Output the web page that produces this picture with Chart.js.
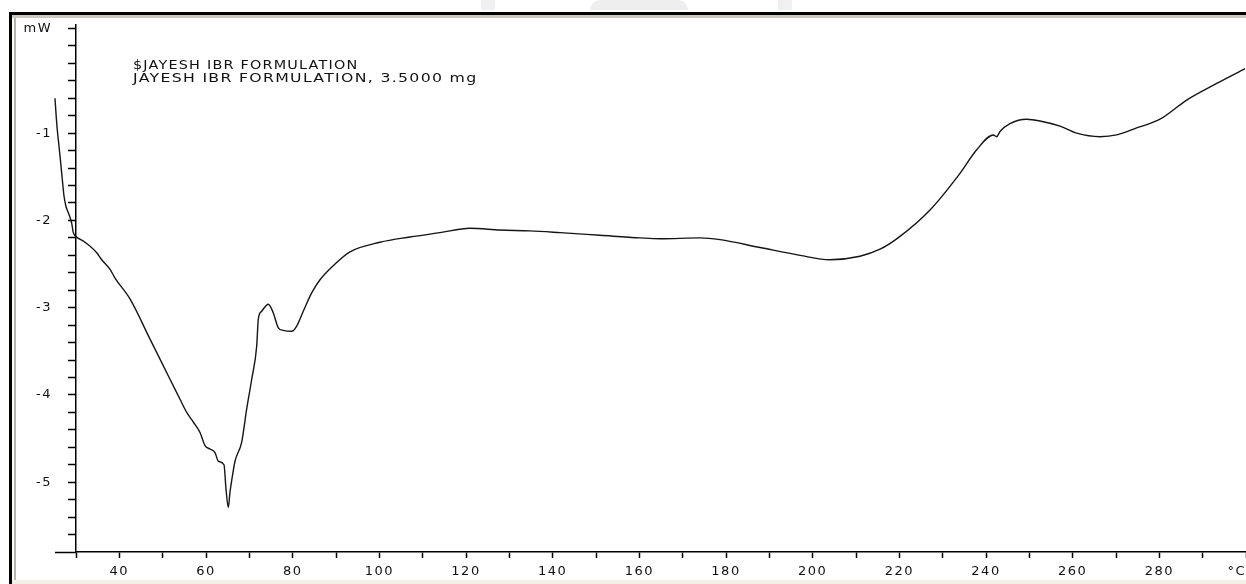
<!DOCTYPE html>
<html>
<head>
<meta charset="utf-8">
<script src="https://cdn.jsdelivr.net/npm/chart.js@4.4.0/dist/chart.umd.min.js"></script>
<style>
html, body { margin: 0; padding: 0; background: #fff; }
#wrap { position: relative; width: 1246px; height: 584px; overflow: hidden; background: #fff; }
#myChart { position: absolute; left: 0; top: 0; }
.frame { position: absolute; }
.note { position: absolute; left: 133px; font: 12px "DejaVu Sans"; letter-spacing: 1px; color: #111; white-space: nowrap; transform-origin: 0 0; }
</style>
</head>
<body>
<div id="wrap">
  <div class="frame" style="left:481px;top:0;width:14px;height:10px;background:#f0f0f0"></div>
  <div class="frame" style="left:590px;top:0;width:98px;height:10px;background:#eeeeee;border-radius:40px 40px 0 0"></div>
  <div class="frame" style="left:778px;top:0;width:14px;height:10px;background:#f0f0f0"></div>
  <div class="frame" style="left:9px;top:12px;width:1237px;height:3px;background:#000"></div>
  <div class="frame" style="left:12px;top:15px;width:1234px;height:3px;background:#cdc9bc"></div>
  <div class="frame" style="left:9px;top:12px;width:3px;height:572px;background:#000"></div>
  <div class="frame" style="left:14px;top:18px;width:2px;height:562px;background:#b9b5a8"></div>
  <div class="frame" style="left:12px;top:580px;width:1234px;height:4px;background:#f3f0e5"></div>
  <canvas id="myChart" width="1246" height="584"></canvas>
  <div class="note" style="top:58px;transform:scaleX(1.2)">$JAYESH IBR FORMULATION</div>
  <div class="note" style="top:71px;transform:scaleX(1.31)">JAYESH IBR FORMULATION, 3.5000 mg</div>
</div>
<script>
// temperature (°C) and heat flow (mW)
var temps = [25.15, 25.38, 25.68, 26.08, 26.47, 26.84, 27.23, 27.69, 28.22, 29.0, 29.38, 29.93,
    32.08, 34.78, 35.93, 37.85, 39.0, 42.46, 47.08, 51.69, 54.0, 55.55, 57.07, 58.62, 59.77,
    60.92, 62.08, 62.84, 64.15, 64.62, 65.15, 65.54, 66.0, 66.69, 68.24, 69.39, 70.55, 71.7,
    72.07, 72.85, 74.38, 75.53, 76.69, 77.84, 79.78, 80.93, 82.45, 84.39, 86.31, 89.77, 93.23,
    100.15, 107.08, 114.0, 120.92, 127.85, 134.77, 141.69, 150.92, 160.15, 164.77, 174.0,
    178.62, 187.85, 197.08, 204.0, 210.92, 215.54, 219.7, 227.08, 234.0, 237.85, 241.69,
    242.46, 243.23, 245.54, 249.39, 252.46, 257.08, 260.92, 266.31, 270.15, 274.77, 280.15,
    286.31, 293.23, 299.77];
var heatFlow = [-0.60, -0.77, -0.96, -1.15, -1.34, -1.53, -1.72, -1.84, -1.91, -2.03, -2.14, -2.18,
    -2.25, -2.37, -2.45, -2.56, -2.66, -2.90, -3.36, -3.82, -4.05, -4.20, -4.31, -4.43, -4.58,
    -4.62, -4.66, -4.76, -4.80, -5.08, -5.29, -5.11, -4.96, -4.76, -4.54, -4.16, -3.82, -3.44,
    -3.13, -3.04, -2.96, -3.06, -3.23, -3.26, -3.27, -3.21, -3.04, -2.83, -2.68, -2.50, -2.36,
    -2.25, -2.19, -2.14, -2.09, -2.11, -2.12, -2.14, -2.17, -2.20, -2.21, -2.20,
    -2.22, -2.31, -2.40, -2.45, -2.41, -2.33, -2.20, -1.88, -1.46, -1.19, -1.02,
    -1.04, -0.98, -0.89, -0.84, -0.86, -0.92, -1.00, -1.04, -1.02, -0.94, -0.84,
    -0.62, -0.43, -0.26];

var xMin = 30, xMax = 300, xStep = 10, xLabelEvery = 20;
var yMin = -5.8, yMax = 0.24, yStep = 0.2;
var xUnit = '°C', yUnit = 'mW';

var points = temps.map(function (t, i) { return {x: t, y: heatFlow[i]}; });

// wide bitmap-like look for the axis numbers, plus the x axis running left past the y axis
var axisLook = {
    id: 'axisLook',
    beforeDraw: function (chart) {
        chart.ctx.letterSpacing = '1.5px';
    },
    afterDraw: function (chart) {
        var xs = chart.scales.x, ys = chart.scales.y, c = chart.ctx;
        var py = Math.round(ys.getPixelForValue(yMin)) + 0.5;
        c.save();
        c.strokeStyle = '#000';
        c.lineWidth = 1.5;
        c.beginPath();
        c.moveTo(xs.getPixelForValue(temps[0]), py);
        c.lineTo(xs.left, py);
        c.stroke();
        c.restore();
    }
};

var ctx = document.getElementById('myChart').getContext('2d');
var chart = new Chart(ctx, {
    type: 'line',
    data: {
        datasets: [{
            data: points,
            borderColor: '#151515',
            borderWidth: 1.4,
            pointRadius: 0,
            cubicInterpolationMode: 'monotone',
            clip: false
        }]
    },
    options: {
        responsive: false,
        animation: false,
        layout: { padding: { top: 25, left: 0, right: 0, bottom: 0 } },
        plugins: { legend: { display: false }, tooltip: { enabled: false } },
        scales: {
            x: {
                type: 'linear',
                border: { display: true, color: '#000', width: 1.5 },
                grid: { drawOnChartArea: false, drawTicks: true, tickLength: 6, color: '#000', tickWidth: 1.5 },
                ticks: {
                    stepSize: xStep,
                    autoSkip: false,
                    maxRotation: 0,
                    align: 'inner',
                    padding: 6,
                    color: '#111',
                    font: { family: 'DejaVu Sans', size: 13 },
                    callback: function (v) {
                        if (Math.abs(v - xMax) < 1e-6) return xUnit;
                        var r = Math.round(v);
                        return (r % xLabelEvery === 0) ? String(r) : '';
                    }
                },
                // range set here (not via min/max) so the curve left of 30 °C is still drawn
                afterDataLimits: function (s) { s.min = xMin; s.max = xMax; },
                afterFit: function (s) { s.height = 32; s.paddingLeft = 0; s.paddingRight = 0; }
            },
            y: {
                min: yMin,
                max: yMax,
                border: { display: true, color: '#000', width: 1.5 },
                grid: { drawOnChartArea: false, drawTicks: true, tickLength: 8, color: '#000', tickWidth: 1.5 },
                ticks: {
                    stepSize: yStep,
                    includeBounds: false,
                    autoSkip: false,
                    maxTicksLimit: 100,
                    padding: 16,
                    color: '#111',
                    font: { family: 'DejaVu Sans', size: 13 },
                    callback: function (v) {
                        if (Math.abs(v - 0.2) < 1e-6) return yUnit;
                        var r = Math.round(v);
                        return (Math.abs(v - r) < 1e-6 && r < 0) ? String(r) : '';
                    }
                },
                afterFit: function (s) { s.width = 76; s.paddingTop = 0; s.paddingBottom = 0; }
            }
        }
    },
    plugins: [axisLook]
});
</script>
</body>
</html>
